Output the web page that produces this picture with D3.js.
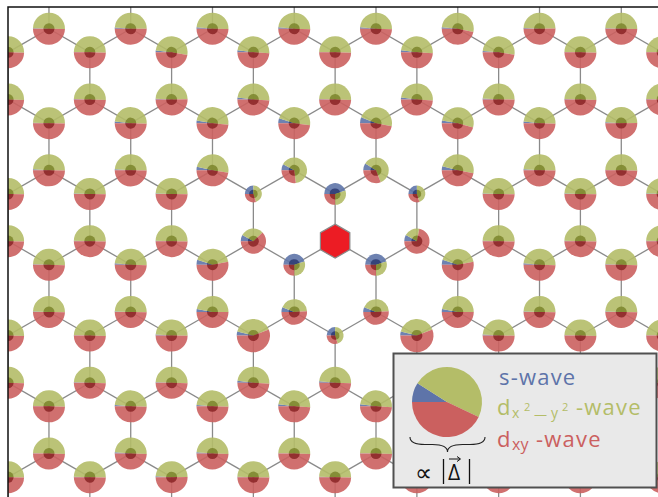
<!DOCTYPE html>
<html>
<head>
<meta charset="utf-8">
<script src="https://cdnjs.cloudflare.com/ajax/libs/d3/7.8.5/d3.min.js"></script>
<style>
  body { margin: 0; background: #fff; }
  svg { display: block; font-family: "Open Sans", sans-serif; }
</style>
</head>
<body>
<div class="canvas"></div>
<script>
const WIDTH = 658,
  HEIGHT = 497,
  FRAME = { left: 8, top: 7 },
  MAX_RADIUS = 16,
  INNER_RADIUS = 5.5,
  HEX_RADIUS = 17;

// lattice window in units of the bond length (impurity site at 0,0)
const X_DOMAIN = [-6.93, 6.84],
  Y_DOMAIN = [-4.96, 5.42];

// visible lattice rows / columns
const ROWS = [-3, -2, -1, 0, 1, 2, 3, 4];
const COLUMNS = [-8, -7, -6, -5, -4, -3, -2, -1, 0, 1, 2, 3, 4, 5, 6, 7, 8];

const COMPONENTS = ["s-wave", "dx2-y2-wave", "dxy-wave"];
const COLORS = ["#5e74a9", "#b4bd68", "#cb605f"];
const DARK_COLORS = ["#2c3a72", "#7b852c", "#8a2426"];

// far-field site (the bulk value)
const bulkValues = [0.004, 0.5, 0.496];
const bulkGap = 1.0;

// sites around the impurity: "sublattice column row"
const siteIds = [
  "A 0 0", "A -1 1", "A 1 1",
  "B -1 -1", "B 1 -1", "B -2 0", "B 2 0", "B -1 1", "B 1 1",
  "A -2 0", "A 2 0", "A 0 2",
  "A -1 -1", "A 1 -1", "A -3 1", "A 3 1", "A -2 2", "A 2 2",
  "A -3 -1", "A 3 -1", "B -3 -1", "B 3 -1", "B -3 1", "B 3 1", "B -2 -2", "B 2 -2",
  "A -2 -2", "A 2 -2", "A -4 -2", "A 4 -2", "B -1 -3", "B 1 -3", "B -3 -3", "B 3 -3",
  "A -5 -1", "A 5 -1", "B -5 -1", "B 5 -1", "B -7 -1", "A 7 -1", "B -4 -2", "B 4 -2",
  "B -5 -3", "B 5 -3", "A -1 3", "A 1 3", "A -3 3", "A 3 3", "A -5 3", "A 5 3",
  "B -5 3", "B -3 3", "B 3 3", "B 5 3", "A -4 2", "A 4 2", "A -5 1", "A 5 1",
  "B -2 2", "B 2 2", "B 0 2", "A -4 4", "A 4 4",
];
const sWave = [
  0.45, 0.45, 0.45,
  0.08, 0.09, 0.08, 0.08, 0.06, 0.06,
  0.25, 0.25, 0.25,
  0.05, 0.06, 0.05, 0.05, 0.04, 0.04,
  0.025, 0.025, 0.035, 0.04, 0.03, 0.03, 0.02, 0.02,
  0.02, 0.02, 0.017, 0.014, 0.015, 0.015, 0.014, 0.014,
  0.017, 0.017, 0.011, 0.011, 0.012, 0.008, 0.008, 0.011,
  0.011, 0.008, 0.02, 0.02, 0.014, 0.014, 0.014, 0.014,
  0.014, 0.014, 0.014, 0.014, 0.011, 0.011, 0.015, 0.015,
  0.02, 0.02, 0.015, 0.008, 0.008,
];
const dx2y2Wave = [
  0.3, 0.3, 0.3,
  0.65, 0.6, 0.3, 0.2, 0.43, 0.43,
  0.45, 0.45, 0.45,
  0.47, 0.47, 0.42, 0.42, 0.4, 0.4,
  0.49, 0.52, 0.49, 0.49, 0.47, 0.47, 0.49, 0.49,
  0.49, 0.49, 0.51, 0.51, 0.49, 0.49, 0.49, 0.52,
  0.49, 0.49, 0.49, 0.49, 0.49, 0.49, 0.49, 0.49,
  0.49, 0.49, 0.49, 0.49, 0.49, 0.49, 0.49, 0.49,
  0.49, 0.49, 0.49, 0.49, 0.49, 0.49, 0.49, 0.49,
  0.49, 0.49, 0.49, 0.49, 0.49,
];
const dxyWave = [
  0.25, 0.25, 0.25,
  0.27, 0.31, 0.62, 0.72, 0.51, 0.51,
  0.3, 0.3, 0.3,
  0.48, 0.47, 0.53, 0.53, 0.56, 0.56,
  0.485, 0.455, 0.475, 0.47, 0.5, 0.5, 0.49, 0.49,
  0.49, 0.49, 0.473, 0.476, 0.495, 0.495, 0.496, 0.466,
  0.493, 0.493, 0.499, 0.499, 0.498, 0.502, 0.502, 0.499,
  0.499, 0.502, 0.49, 0.49, 0.496, 0.496, 0.496, 0.496,
  0.496, 0.496, 0.496, 0.496, 0.499, 0.499, 0.495, 0.495,
  0.49, 0.49, 0.495, 0.502, 0.502,
];
const gapSize = [
  0.68, 0.68, 0.68,
  0.8, 0.8, 0.79, 0.79, 0.8, 0.8,
  0.53, 0.53, 0.53,
  1.0, 1.0, 1.0, 1.0, 1.04, 1.04,
  1.0, 1.0, 1.0, 1.0, 1.0, 1.0, 1.0, 1.0,
  1.0, 1.0, 1.0, 1.0, 1.0, 1.0, 1.0, 1.0,
  1.0, 1.0, 1.0, 1.0, 1.0, 1.0, 1.0, 1.0,
  1.0, 1.0, 1.0, 1.0, 1.0, 1.0, 1.0, 1.0,
  1.0, 1.0, 1.0, 1.0, 1.0, 1.0, 1.0, 1.0,
  1.0, 1.0, 1.0, 1.0, 1.0,
];

// legend pie
const legendValues = [0.09, 0.48, 0.43];

let svg, x, y, radius, pie, plot, sites, bonds;

document.addEventListener("DOMContentLoaded", function () {
  setSVG();
  setScales();
  buildLattice();
  drawBonds();
  drawSites();
  drawImpurity();
  drawFrame();
  drawLegend();
});

function setSVG() {
  svg = d3
    .select(".canvas")
    .append("svg")
    .attr("width", WIDTH)
    .attr("height", HEIGHT);

  svg
    .append("clipPath")
    .attr("id", "plot-clip")
    .append("rect")
    .attr("x", FRAME.left)
    .attr("y", FRAME.top)
    .attr("width", WIDTH - FRAME.left)
    .attr("height", HEIGHT - FRAME.top);

  plot = svg.append("g").attr("clip-path", "url(#plot-clip)");
}

function setScales() {
  x = d3.scaleLinear().domain(X_DOMAIN).range([FRAME.left, WIDTH]);
  y = d3.scaleLinear().domain(Y_DOMAIN).range([FRAME.top, HEIGHT]);
  radius = d3.scaleLinear().domain([0, 1]).range([0, MAX_RADIUS]);
  pie = d3
    .pie()
    .sort(null)
    .startAngle(-Math.PI / 2)
    .endAngle((3 * Math.PI) / 2);
}

function siteKey(sub, k, j) {
  return `${sub} ${k} ${j}`;
}

// A(k,j) sits one bond above B(k,j); rows are 1.5 bonds apart
function sitePosition(sub, k, j) {
  return {
    lx: (k * Math.sqrt(3)) / 2,
    ly: 1.5 * j + (sub === "A" ? -1 : 0),
  };
}

function buildLattice() {
  sites = [];
  bonds = [];
  ROWS.forEach((j) => {
    COLUMNS.filter((k) => Math.abs(k - j) % 2 === 0).forEach((k) => {
      ["A", "B"].forEach((sub) => {
        const id = siteKey(sub, k, j);
        const index = siteIds.indexOf(id);
        const values =
          index >= 0
            ? [sWave[index], dx2y2Wave[index], dxyWave[index]]
            : bulkValues;
        const gap = index >= 0 ? gapSize[index] : bulkGap;
        sites.push({ id, sub, k, j, values, gap, ...sitePosition(sub, k, j) });
      });
      // A(k,j) bonds: down to B(k,j), up to B(k+-1, j-1)
      const a = sitePosition("A", k, j);
      [
        sitePosition("B", k, j),
        sitePosition("B", k - 1, j - 1),
        sitePosition("B", k + 1, j - 1),
      ].forEach((b) => bonds.push({ from: a, to: b }));
    });
  });
  // bonds leaving the window at the bottom
  COLUMNS.filter((k) => Math.abs(k - 5) % 2 === 0).forEach((k) => {
    const a = sitePosition("A", k, 5);
    bonds.push({ from: a, to: sitePosition("B", k - 1, 4) });
    bonds.push({ from: a, to: sitePosition("B", k + 1, 4) });
  });
}

function drawBonds() {
  plot
    .append("g")
    .attr("class", "bonds")
    .selectAll("line")
    .data(bonds)
    .enter()
    .append("line")
    .attr("x1", (d) => x(d.from.lx))
    .attr("y1", (d) => y(d.from.ly))
    .attr("x2", (d) => x(d.to.lx))
    .attr("y2", (d) => y(d.to.ly))
    .attr("stroke", "#8a8a8a")
    .attr("stroke-width", 1.3);
}

function drawSites() {
  const site = plot
    .append("g")
    .attr("class", "sites")
    .selectAll("g")
    .data(sites.filter((d) => !(d.sub === "B" && d.k === 0 && d.j === 0)))
    .enter()
    .append("g")
    .attr("transform", (d) => `translate(${x(d.lx)}, ${y(d.ly)})`);

  site
    .selectAll("path.outer")
    .data((d) => pie(d.values).map((p) => ({ ...p, r: radius(d.gap) })))
    .enter()
    .append("path")
    .attr("class", "outer")
    .attr("d", (p) => d3.arc().innerRadius(0).outerRadius(p.r)(p))
    .attr("fill", (p) => COLORS[p.index])
    .attr("fill-opacity", 0.9);

  site
    .selectAll("path.inner")
    .data((d) =>
      pie(d.values).map((p) => ({
        ...p,
        r: Math.min(INNER_RADIUS, radius(d.gap) * 0.5),
      }))
    )
    .enter()
    .append("path")
    .attr("class", "inner")
    .attr("d", (p) => d3.arc().innerRadius(0).outerRadius(p.r)(p))
    .attr("fill", (p) => DARK_COLORS[p.index])
    .attr("fill-opacity", 0.85);
}

function drawImpurity() {
  const hex = d3.range(6).map((i) => {
    const angle = (Math.PI / 3) * i - Math.PI / 2;
    return [
      x(0) + HEX_RADIUS * Math.cos(angle),
      y(0) + HEX_RADIUS * Math.sin(angle),
    ];
  });
  plot
    .append("polygon")
    .attr("points", hex.map((p) => p.join(",")).join(" "))
    .attr("fill", "#ec1c24")
    .attr("stroke", "#8a8a8a")
    .attr("stroke-width", 1.2);
}

function drawFrame() {
  svg
    .append("path")
    .attr("d", `M${FRAME.left},${HEIGHT + 2} V${FRAME.top} H${WIDTH + 2}`)
    .attr("fill", "none")
    .attr("stroke", "#111")
    .attr("stroke-width", 1.5);
}

function bracePath(x1, x2, top, h) {
  const xm = (x1 + x2) / 2,
    q = h / 2;
  return (
    `M${x1},${top} Q${x1},${top + q} ${x1 + 2 * q},${top + q} ` +
    `L${xm - 2 * q},${top + q} Q${xm},${top + q} ${xm},${top + h} ` +
    `Q${xm},${top + q} ${xm + 2 * q},${top + q} ` +
    `L${x2 - 2 * q},${top + q} Q${x2},${top + q} ${x2},${top}`
  );
}

function drawLegend() {
  const legend = svg.append("g").attr("class", "legend");

  legend
    .append("rect")
    .attr("x", 393.5)
    .attr("y", 353.5)
    .attr("width", 263)
    .attr("height", 134)
    .attr("fill", "#e9e9e9")
    .attr("stroke", "#505050")
    .attr("stroke-width", 2);

  const legendPie = legend
    .append("g")
    .attr("transform", "translate(447, 402)");
  legendPie
    .selectAll("path")
    .data(pie(legendValues))
    .enter()
    .append("path")
    .attr("d", d3.arc().innerRadius(0).outerRadius(35))
    .attr("fill", (p) => COLORS[p.index]);

  legend
    .append("path")
    .attr("d", bracePath(410, 485, 437, 15))
    .attr("fill", "none")
    .attr("stroke", "#222")
    .attr("stroke-width", 1.1);

  legend
    .append("text")
    .attr("x", 415)
    .attr("y", 481)
    .attr("fill", "#111")
    .attr("font-size", 24)
    .attr("font-family", "DejaVu Sans")
    .attr("font-weight", 200)
    .text("∝");
  legend
    .append("text")
    .attr("x", 448)
    .attr("y", 480)
    .attr("fill", "#111")
    .attr("font-size", 21)
    .text("Δ");
  legend
    .selectAll("line.bar")
    .data([443.5, 469.5])
    .enter()
    .append("line")
    .attr("class", "bar")
    .attr("x1", (d) => d)
    .attr("x2", (d) => d)
    .attr("y1", 459)
    .attr("y2", 484)
    .attr("stroke", "#111")
    .attr("stroke-width", 1.3);
  legend
    .append("path")
    .attr("d", "M449,459 H460 M457,456.5 L460.5,459 L457,461.5")
    .attr("fill", "none")
    .attr("stroke", "#111")
    .attr("stroke-width", 1);

  const labels = legend.append("g").attr("font-size", 22);

  labels
    .append("text")
    .attr("x", 499)
    .attr("y", 385)
    .attr("fill", COLORS[0])
    .attr("letter-spacing", 1.2)
    .text("s-wave");

  const dx2 = labels.append("text").attr("y", 415).attr("fill", COLORS[1]);
  dx2.append("tspan").attr("x", 497).text("d");
  dx2.append("tspan").attr("x", 512).attr("y", 418).attr("font-size", 14).text("x");
  dx2.append("tspan").attr("x", 524).attr("y", 411).attr("font-size", 11).text("2");
  dx2.append("tspan").attr("x", 534).attr("y", 419).attr("font-size", 13).text("—");
  dx2.append("tspan").attr("x", 551).attr("y", 418).attr("font-size", 14).text("y");
  dx2.append("tspan").attr("x", 562).attr("y", 411).attr("font-size", 11).text("2");
  dx2
    .append("tspan")
    .attr("x", 576)
    .attr("y", 415)
    .attr("letter-spacing", 1.2)
    .text("-wave");

  const dxy = labels.append("text").attr("y", 447).attr("fill", COLORS[2]);
  dxy.append("tspan").attr("x", 497).text("d");
  dxy.append("tspan").attr("x", 512).attr("y", 450).attr("font-size", 16).text("xy");
  dxy
    .append("tspan")
    .attr("x", 536)
    .attr("y", 447)
    .attr("letter-spacing", 1.2)
    .text("-wave");
}
</script>
</body>
</html>
